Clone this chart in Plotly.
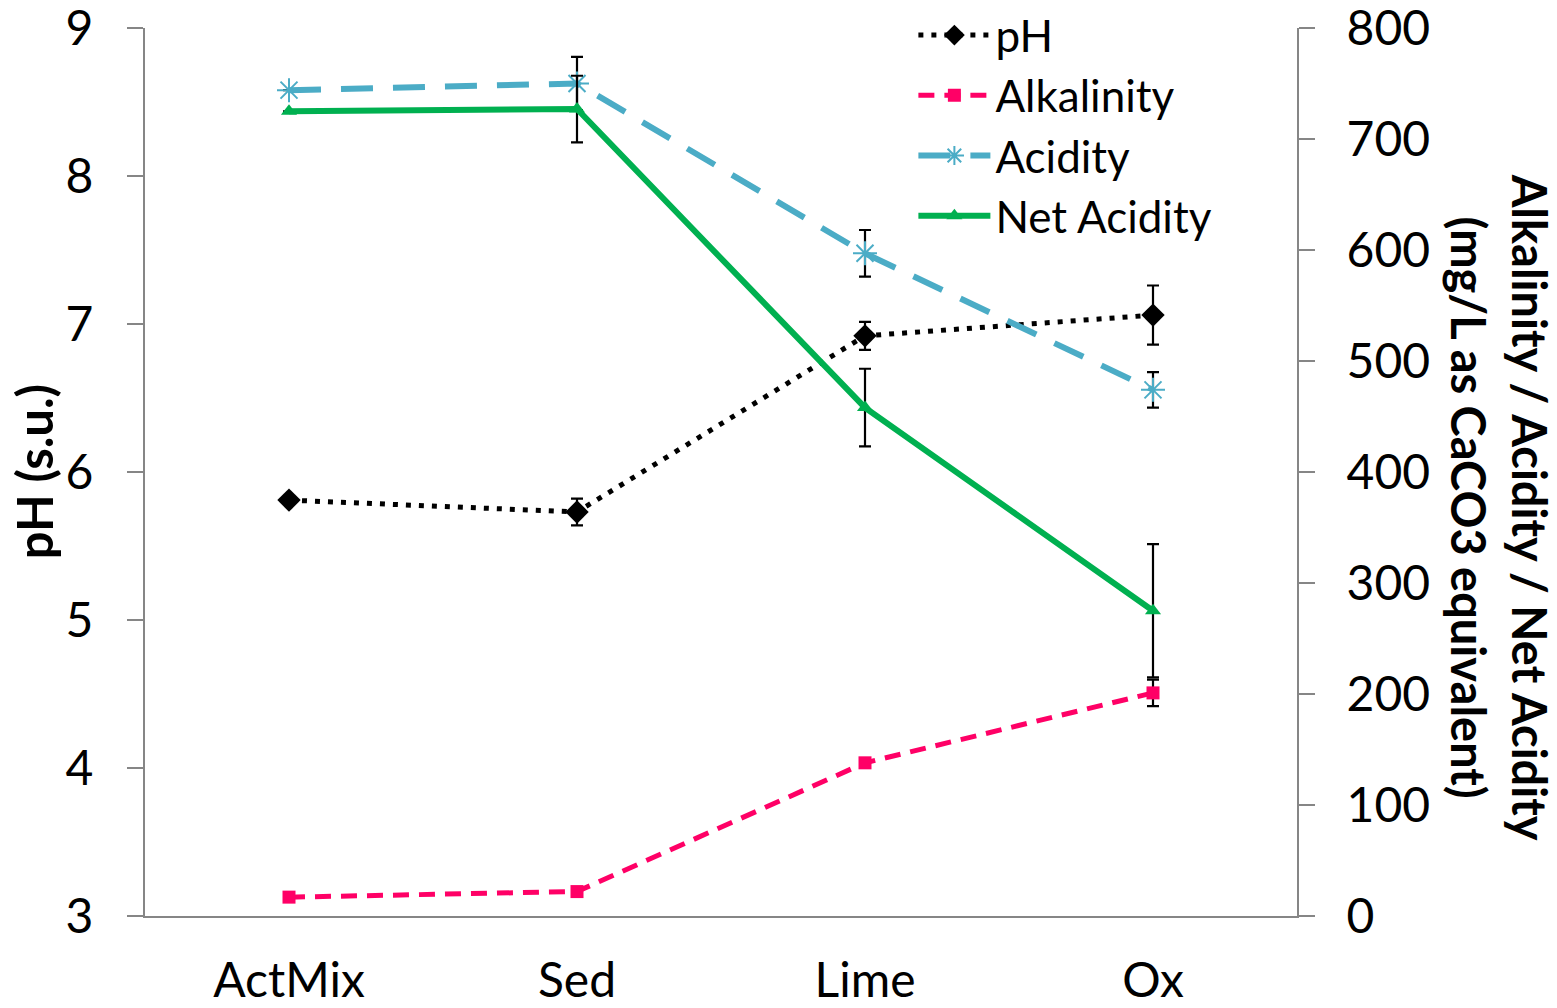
import plotly.graph_objects as go

# Treatment stages
stages = ["ActMix", "Sed", "Lime", "Ox"]

# pH (s.u.) and its standard deviation
ph = [5.81, 5.73, 6.92, 7.06]
ph_err = [None, 0.09, 0.095, 0.20]

# Alkalinity / acidity / net acidity (mg/L as CaCO3 equivalent)
alkalinity = [17, 22, 138, 201]
alkalinity_err = [None, None, None, 12]

acidity = [744, 750, 597, 474]
acidity_err = [None, 24, 21, 16]

net_acidity = [725, 727, 458, 275]
net_acidity_err = [None, 30, 35, 60]

FONT = "Lato"
err_style = dict(type="data", visible=True, color="black", thickness=2.2, width=6)

fig = go.Figure()

fig.add_trace(go.Scatter(
    x=stages, y=ph, name="pH", yaxis="y",
    mode="lines+markers",
    line=dict(color="black", width=5, dash="5px,8px"),
    marker=dict(symbol="diamond", size=18, color="black"),
    error_y=dict(array=ph_err, **err_style),
))
fig.add_trace(go.Scatter(
    x=stages, y=alkalinity, name="Alkalinity", yaxis="y2",
    mode="lines+markers",
    line=dict(color="#FF0066", width=5, dash="16px,10px"),
    marker=dict(symbol="square", size=13, color="#FF0066"),
    error_y=dict(array=alkalinity_err, **err_style),
))
fig.add_trace(go.Scatter(
    x=stages, y=acidity, name="Acidity", yaxis="y2",
    mode="lines+markers",
    line=dict(color="#4BACC6", width=6, dash="32px,20px"),
    marker=dict(symbol="asterisk-open", size=20,
                line=dict(color="#4BACC6", width=2)),
    error_y=dict(array=acidity_err, **err_style),
))
fig.add_trace(go.Scatter(
    x=stages, y=net_acidity, name="Net Acidity", yaxis="y2",
    mode="lines+markers",
    line=dict(color="#00B050", width=6),
    marker=dict(symbol="triangle-up", size=14, color="#00B050"),
    error_y=dict(array=net_acidity_err, **err_style),
))

axis_line = "#868686"
plot_top = 888 / 916  # leave a strip above the axes for the legend's first row

fig.update_layout(
    width=1557, height=1008,
    margin=dict(l=145, r=260, t=0, b=92),
    paper_bgcolor="white", plot_bgcolor="white",
    font=dict(family=FONT, size=48, color="black"),
    showlegend=True,
    legend=dict(
        x=0.667, y=1.0, xanchor="left", yanchor="top",
        bgcolor="rgba(0,0,0,0)", font=dict(size=44),
        itemwidth=72, tracegroupgap=0,
    ),
    xaxis=dict(
        type="category", range=[-0.5, 3.5], automargin=False,
        showline=True, linecolor=axis_line, linewidth=2,
        ticks="", showgrid=False, zeroline=False,
        tickfont=dict(size=48), ticklabelstandoff=21,
    ),
    yaxis=dict(
        range=[3, 9], dtick=1, domain=[0, plot_top], automargin=False,
        showline=True, linecolor=axis_line, linewidth=2,
        ticks="outside", ticklen=16, tickcolor=axis_line, tickwidth=2,
        showgrid=False, zeroline=False, ticklabeloverflow="allow",
        tickfont=dict(size=48), ticklabelstandoff=24,
    ),
    yaxis2=dict(
        range=[0, 800], dtick=100, overlaying="y", side="right", automargin=False,
        showline=True, linecolor=axis_line, linewidth=2,
        ticks="outside", ticklen=16, tickcolor=axis_line, tickwidth=2,
        showgrid=False, zeroline=False, ticklabeloverflow="allow",
        tickfont=dict(size=48), ticklabelstandoff=22,
    ),
    annotations=[
        dict(
            text="<b>pH (s.u.)</b>",
            xref="paper", yref="paper", x=-0.0962, y=0.4847,
            xanchor="center", yanchor="middle",
            textangle=-90, showarrow=False, font=dict(size=49),
        ),
        dict(
            text="<b>Alkalinity / Acidity / Net Acidity<br>(mg/L as CaCO3 equivalent)</b>",
            xref="paper", yref="paper", x=1.1765, y=0.4465,
            xanchor="center", yanchor="middle",
            textangle=90, showarrow=False,
            font=dict(size=47), align="center",
        ),
    ],
)

fig.write_html("out.html")
